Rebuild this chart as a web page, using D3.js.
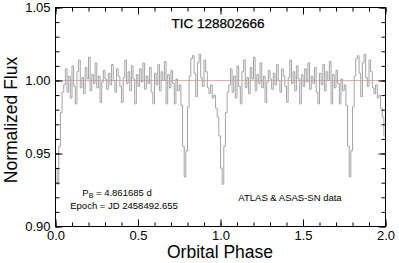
<!DOCTYPE html>
<html>
<head>
<meta charset="utf-8">
<script src="https://cdn.jsdelivr.net/npm/d3@7"></script>
<style>
  body { margin: 0; background: #fff; }
  svg { display: block; }
  text { font-family: "Liberation Sans", Arial, sans-serif; }
</style>
</head>
<body>
<svg width="399" height="263"></svg>
<script>
// folded light curve, one cycle, bins of 0.01 in phase
let binWidth = 0.01;
let binFlux = [
  0.940, 0.929, 0.955, 0.978, 0.992, 0.997, 1.008, 0.992, 1.003, 0.988,
  1.010, 0.996, 0.984, 1.006, 1.014, 0.995, 1.002, 0.991, 1.009, 1.001,
  1.016, 0.993, 1.004, 0.998, 1.012, 0.995, 1.003, 0.985, 0.999, 1.007,
  1.001, 0.994, 1.005, 0.997, 1.011, 1.000, 0.992, 1.008, 1.003, 0.996,
  0.985, 1.002, 1.014, 0.998, 1.006, 0.993, 1.010, 1.001, 0.984, 1.004,
  0.996, 1.008, 0.999, 1.012, 0.994, 1.003, 0.998, 1.009, 0.992, 0.984,
  1.005, 0.997, 1.011, 0.993, 1.006, 1.000, 1.013, 0.984, 1.004, 0.995,
  1.007, 0.998, 0.984, 1.001, 0.993, 0.997, 0.983, 0.955, 0.934, 0.952,
  0.982, 1.003, 1.015, 1.017, 1.005, 0.989, 1.012, 1.018, 1.002, 0.996,
  1.014, 1.006, 0.995, 0.991, 0.997, 0.988, 0.990, 0.981, 0.975, 0.962
];
let cycles = [0, 1];
let xTicks = [0, 0.5, 1, 1.5, 2];
let yTicks = [0.90, 0.95, 1.00, 1.05];
let refFlux = 1.00;
let title = "TIC 128802666";
let period = "4.861685 d";
let epoch = "Epoch = JD 2458492.655";
let source = "ATLAS & ASAS-SN data";

let svg = d3.select("svg");
let pLeft = 55.5, pRight = 385.5, pTop = 7.5, pBottom = 226.5;

let x = d3.scaleLinear().domain([0, 2]).range([pLeft, pRight]);
let y = d3.scaleLinear().domain([0.90, 1.05]).range([pBottom, pTop]);

// build the points for both cycles
let pts = [];
cycles.forEach(function(c) {
  binFlux.forEach(function(f, i) {
    pts.push([c + i * binWidth, f]);
  });
});
pts.push([2, binFlux[binFlux.length - 1]]);

svg.append("clipPath").attr("id", "plotclip")
  .append("rect").attr("x", pLeft).attr("y", pTop)
  .attr("width", pRight - pLeft).attr("height", pBottom - pTop);

// reference line
svg.append("line")
  .attr("x1", pLeft).attr("x2", pRight)
  .attr("y1", y(refFlux)).attr("y2", y(refFlux))
  .attr("stroke", "#f4a8a8").attr("stroke-width", 1);

let line = d3.line()
  .x(function(d) { return x(d[0]); })
  .y(function(d) { return y(d[1]); })
  .curve(d3.curveStepAfter);

svg.append("path")
  .datum(pts)
  .attr("clip-path", "url(#plotclip)")
  .attr("d", line)
  .attr("fill", "none")
  .attr("stroke", "#a4a4a4")
  .attr("stroke-width", 1);

// axes, ticks pointing inward
let xMinor = d3.range(0, 2.001, 0.1);
let yMinor = d3.range(0.90, 1.0501, 0.01);

function tidy(g) {
  g.select(".domain").remove();
  g.selectAll("line").attr("stroke", "#000");
}

svg.append("g").attr("transform", "translate(0," + pBottom + ")")
  .call(d3.axisBottom(x).tickValues(xMinor).tickSize(-4).tickFormat(""))
  .call(tidy);
svg.append("g").attr("transform", "translate(0," + pBottom + ")")
  .call(d3.axisBottom(x).tickValues(xTicks).tickSize(-7).tickPadding(4).tickFormat(d3.format(".1f")))
  .call(tidy)
  .selectAll("text").style("font-size", "13px").attr("fill", "#000");

svg.append("g").attr("transform", "translate(0," + pTop + ")")
  .call(d3.axisTop(x).tickValues(xMinor).tickSize(-4).tickFormat(""))
  .call(tidy);
svg.append("g").attr("transform", "translate(0," + pTop + ")")
  .call(d3.axisTop(x).tickValues(xTicks).tickSize(-7).tickFormat(""))
  .call(tidy);

svg.append("g").attr("transform", "translate(" + pLeft + ",0)")
  .call(d3.axisLeft(y).tickValues(yMinor).tickSize(-4).tickFormat(""))
  .call(tidy);
svg.append("g").attr("transform", "translate(" + pLeft + ",0)")
  .call(d3.axisLeft(y).tickValues(yTicks).tickSize(-7).tickPadding(5).tickFormat(d3.format(".2f")))
  .call(tidy)
  .selectAll("text").style("font-size", "13px").attr("fill", "#000");

svg.append("g").attr("transform", "translate(" + pRight + ",0)")
  .call(d3.axisRight(y).tickValues(yMinor).tickSize(-4).tickFormat(""))
  .call(tidy);
svg.append("g").attr("transform", "translate(" + pRight + ",0)")
  .call(d3.axisRight(y).tickValues(yTicks).tickSize(-7).tickFormat(""))
  .call(tidy);

svg.append("rect")
  .attr("x", pLeft).attr("y", pTop)
  .attr("width", pRight - pLeft).attr("height", pBottom - pTop)
  .attr("fill", "none").attr("stroke", "#000").attr("stroke-width", 1);

// titles
svg.append("text")
  .attr("x", 218).attr("y", 28)
  .style("text-anchor", "middle")
  .style("font-size", "13.5px")
  .style("stroke", "#000").style("stroke-width", 0.25)
  .text(title);

svg.append("text")
  .attr("x", 220).attr("y", 258)
  .style("text-anchor", "middle")
  .style("font-size", "17.5px")
  .text("Orbital Phase");

svg.append("text")
  .attr("transform", "rotate(-90)")
  .attr("x", -120).attr("y", 17)
  .style("text-anchor", "middle")
  .style("font-size", "17.5px")
  .text("Normalized Flux");

let pb = svg.append("text")
  .attr("x", 117).attr("y", 196)
  .style("text-anchor", "middle")
  .style("font-size", "9.5px");
pb.append("tspan").text("P");
pb.append("tspan").attr("dy", 2).style("font-size", "7px").text("B");
pb.append("tspan").attr("dy", -2).text(" = " + period);

svg.append("text")
  .attr("x", 124).attr("y", 209)
  .style("text-anchor", "middle")
  .style("font-size", "9.5px")
  .text(epoch);

svg.append("text")
  .attr("x", 290).attr("y", 201)
  .style("text-anchor", "middle")
  .style("font-size", "9.5px")
  .text(source);
</script>
</body>
</html>
